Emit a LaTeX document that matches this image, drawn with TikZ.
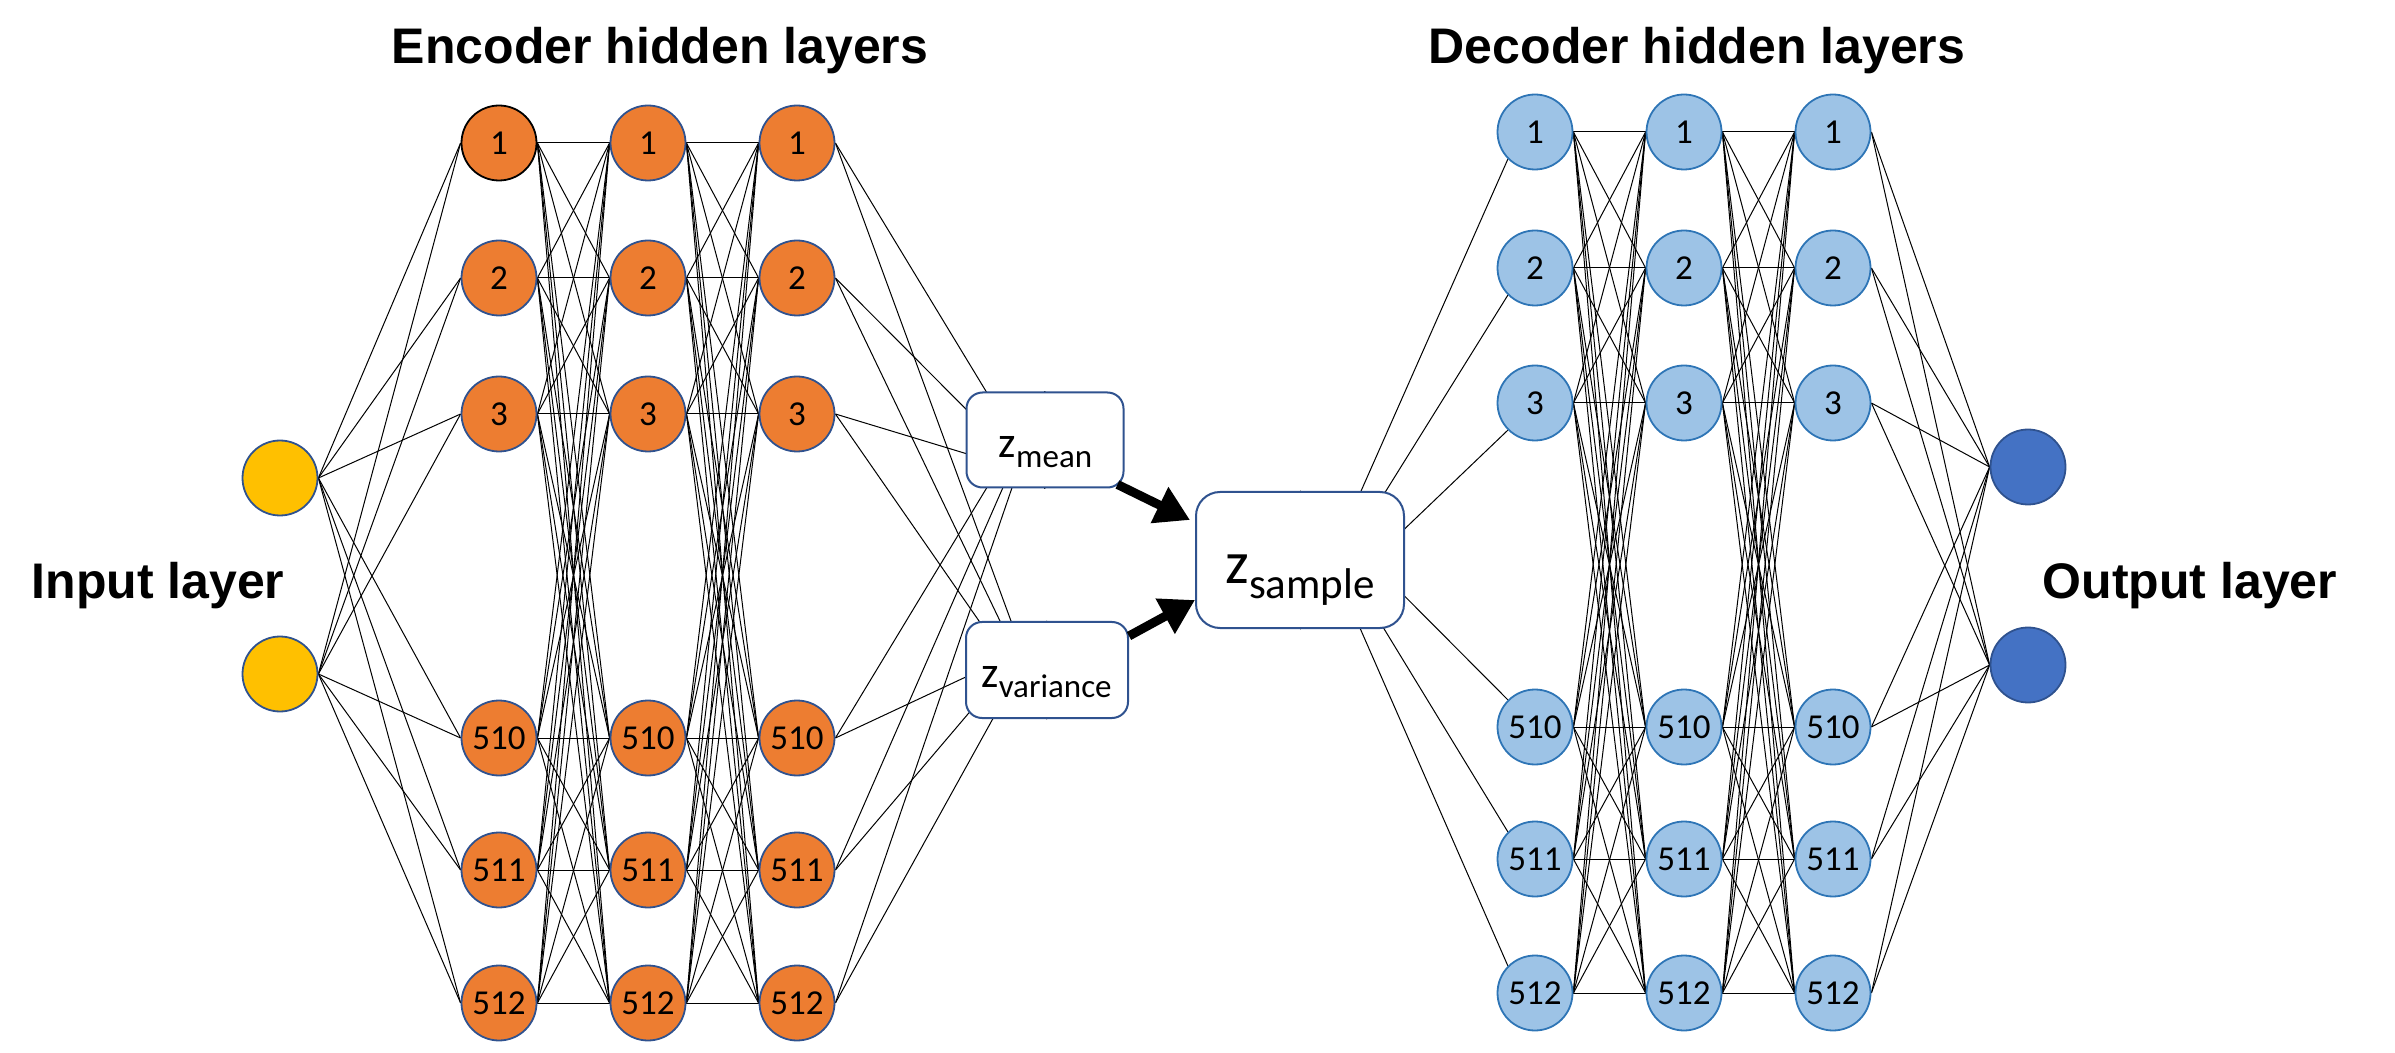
\documentclass[tikz,border=0pt]{standalone}
\usepackage{fontspec}
\setmainfont{Carlito}
\newfontfamily\titlefont{Liberation Sans}
\usetikzlibrary{arrows.meta,calc}
\pgfdeclarelayer{bg}
\pgfsetlayers{bg,main}
\definecolor{encfill}{HTML}{ED7D31}
\definecolor{inpfill}{HTML}{FFC000}
\definecolor{decfill}{HTML}{9DC3E6}
\definecolor{decline}{HTML}{2E75B6}
\definecolor{outfill}{HTML}{4472C4}
\definecolor{darkline}{HTML}{2F528F}
\begin{document}
\begin{tikzpicture}[x=0.5pt,y=-0.5pt,
  neuron/.style={circle,minimum size=37.5pt,inner sep=0pt,line width=0.9pt,
    font=\fontsize{17.5}{19}\selectfont},
  enc/.style={neuron,fill=encfill,draw=darkline},
  inp/.style={neuron,fill=inpfill,draw=darkline},
  dec/.style={neuron,fill=decfill,draw=decline},
  outn/.style={neuron,fill=outfill,draw=darkline},
  zbox/.style={draw=darkline,fill=white,line width=1pt,rounded corners=8pt,inner sep=0pt},
  title/.style={font=\titlefont\bfseries\fontsize{25}{30}\selectfont,anchor=base,inner sep=0pt},
  edge/.style={black,line width=0.5pt},
  bigarrow/.style={black,line width=4.5pt,-{Triangle[length=17pt,width=19pt]}}]
\useasboundingbox (0,0) rectangle (2395,1053);

% titles
\node[title] (tenc) at (660,64) {Encoder hidden layers};
\node[title] (tdec) at (1697,64) {Decoder hidden layers};
\node[title] (tin) at (158,599) {Input layer};
\node[title] (tout) at (2190,598) {Output layer};

% input layer
\node[inp] (in1) at (280,478) {};
\node[inp] (in2) at (280,674) {};

% encoder
\node[enc,draw=black] (e1-1) at (499,143) {1};
\foreach \i/\y/\t in {2/278/2,3/414/3,4/738/510,5/870/511,6/1003/512}
  \node[enc] (e1-\i) at (499,\y) {\t};
\foreach \i/\y/\t in {1/143/1,2/278/2,3/414/3,4/738/510,5/870/511,6/1003/512}{
  \node[enc] (e2-\i) at (648,\y) {\t};
  \node[enc] (e3-\i) at (797,\y) {\t};
}

% latent boxes
\node[zbox,minimum width=78.5pt,minimum height=47.5pt] (zm) at (1045,440) {};
\node[zbox,minimum width=81pt,minimum height=48pt] (zv) at (1047,670) {};
\node[zbox,minimum width=104pt,minimum height=68pt,rounded corners=12pt] (zs) at (1300,560) {};
\node[anchor=base,inner sep=0pt] (zmt) at (1045.5,458)
  {{\fontsize{22}{24}\selectfont z}\raisebox{-5pt}{\fontsize{16.5}{18}\selectfont mean}};
\node[anchor=base,inner sep=0pt] (zvt) at (1046.5,687)
  {{\fontsize{22}{24}\selectfont z}\raisebox{-5.5pt}{\fontsize{16.5}{18}\selectfont variance}};
\node[anchor=base,inner sep=0pt] (zst) at (1300,583)
  {{\fontsize{30}{32}\selectfont z}\raisebox{-7.5pt}{\fontsize{21.5}{24}\selectfont sample}};

% decoder
\foreach \i/\y/\t in {1/132/1,2/268/2,3/403/3,4/727/510,5/859/511,6/993/512}{
  \node[dec] (d1-\i) at (1535,\y) {\t};
  \node[dec] (d2-\i) at (1684,\y) {\t};
  \node[dec] (d3-\i) at (1833,\y) {\t};
}

% output
\node[outn] (o1) at (2028,467) {};
\node[outn] (o2) at (2028,665) {};

% arrows
\draw[bigarrow] ($(zm.south east)+(-7,-4)$) -- ($(zs.west)+(-5,-40)$);
\draw[bigarrow] ($(zv.north east)+(0,15)$) -- ($(zs.west)+(0,40)$);

% connections
\begin{pgfonlayer}{bg}
\foreach \j in {1,...,6}{
  \draw[edge] (in1.east) -- (e1-\j.west);
  \draw[edge] (in2.east) -- (e1-\j.west);
  \foreach \i in {1,...,6}{
    \draw[edge] (e1-\i.east) -- (e2-\j.west);
    \draw[edge] (e2-\i.east) -- (e3-\j.west);
    \draw[edge] (d1-\i.east) -- (d2-\j.west);
    \draw[edge] (d2-\i.east) -- (d3-\j.west);
  }
  \draw[edge] (d3-\j.east) -- (o1.west);
  \draw[edge] (d3-\j.east) -- (o2.west);
}
\draw[edge] (e3-1.east) -- (zm.south);
\draw[edge] (e3-2.east) -- (zm.south);
\draw[edge] (e3-3.east) -- ($(zm.south)+(0,-11)$);
\draw[edge] (e3-4.east) -- (zm.north);
\draw[edge] (e3-5.east) -- (zm.north);
\draw[edge] (e3-6.east) -- (zm.north);
\draw[edge] (e3-1.east) -- (zv.south);
\draw[edge] (e3-2.east) -- (zv.south);
\draw[edge] (e3-3.east) -- (zv.south);
\draw[edge] (e3-4.east) -- ($(zv.north)+(0,18)$);
\draw[edge] (e3-5.east) -- (zv.north);
\draw[edge] (e3-6.east) -- (zv.north);
\foreach \i in {1,2,3}
  \draw[edge] (zs.south) -- (d1-\i.225);
\foreach \i in {4,5,6}
  \draw[edge] (zs.north) -- (d1-\i.135);
\end{pgfonlayer}
\end{tikzpicture}
\end{document}
